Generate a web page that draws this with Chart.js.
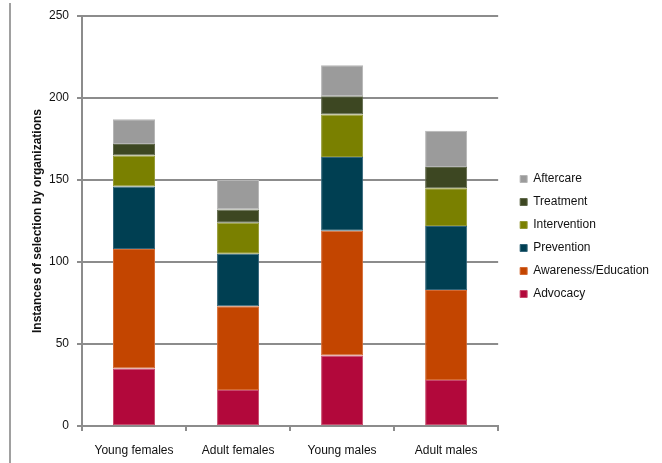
<!DOCTYPE html>
<html>
<head>
<meta charset="utf-8">
<script src="https://cdn.jsdelivr.net/npm/chart.js@4/dist/chart.umd.min.js"></script>
<style>
  html, body { margin: 0; padding: 0; background: #fff; }
  #wrap { position: relative; width: 662px; height: 463px; }
  #edge { position: absolute; left: 9px; top: 3px; width: 2px; height: 460px; background: #a0a0a0; }
  canvas { position: absolute; left: 0; top: 0; }
</style>
</head>
<body>
<div id="wrap">
  <canvas id="c" width="662" height="463"></canvas>
  <div id="edge"></div>
</div>
<script>
const categories = ["Young females", "Adult females", "Young males", "Adult males"];
const advocacy = [35, 22, 43, 28];
const awareness = [73, 51, 76, 55];
const prevention = [38, 32, 45, 39];
const intervention = [19, 19, 26, 23];
const treatment = [7, 8, 11, 13];
const aftercare = [15, 18, 19, 22];
const yTicks = [0, 50, 100, 150, 200, 250];

const FONT = "'Liberation Sans', Arial, sans-serif";
const GRID = '#8c8c8c';
const LEFT_PAD = 30;

function ds(label, data, color, border) {
  return { label, data, backgroundColor: color, borderColor: border, borderWidth: 1, borderSkipped: false,
           categoryPercentage: 1.0, barPercentage: 0.404 };
}

const legendShift = {
  id: 'legendShift',
  afterLayout(chart) {
    const lg = chart.legend;
    if (!lg) return;
    lg.left += 11; lg.right += 11;
    lg.top -= 3; lg.bottom -= 3;
  }
};

new Chart(document.getElementById('c'), {
  type: 'bar',
  data: {
    labels: categories,
    datasets: [
      ds('Advocacy', advocacy, '#b2083b', '#c84a6c'),
      ds('Awareness/Education', awareness, '#c34500', '#d46a33'),
      ds('Prevention', prevention, '#003f52', '#33657a'),
      ds('Intervention', intervention, '#7a8000', '#949933'),
      ds('Treatment', treatment, '#3d4722', '#5f684a'),
      ds('Aftercare', aftercare, '#9b9b9b', '#b5b5b5')
    ]
  },
  plugins: [legendShift],
  options: {
    responsive: false,
    animation: false,
    layout: { padding: { left: LEFT_PAD, right: 14, top: 16, bottom: 0 } },
    plugins: {
      tooltip: { enabled: false },
      legend: {
        position: 'right',
        reverse: true,
        labels: {
          boxWidth: 7, boxHeight: 7, padding: 11,
          color: '#111',
          font: { family: FONT, size: 12 }
        }
      }
    },
    scales: {
      x: {
        stacked: true,
        afterFit: (axis) => { axis.height = 37; },
        grid: { display: true, drawOnChartArea: false, drawTicks: true, tickLength: 5, color: GRID, lineWidth: 2, offset: true },
        border: { display: true, color: GRID, width: 2 },
        ticks: { color: '#111', font: { family: FONT, size: 12 }, padding: 12 }
      },
      y: {
        stacked: true,
        min: 0, max: 250,
        afterFit: (axis) => { axis.width = 82 - LEFT_PAD; },
        afterBuildTicks: (axis) => { axis.ticks = yTicks.map(v => ({ value: v })); },
        grid: { color: GRID, lineWidth: 2, tickLength: 5 },
        border: { display: true, color: GRID, width: 2 },
        ticks: { color: '#111', font: { family: FONT, size: 12 }, padding: 8 },
        title: { display: true, text: 'Instances of selection by organizations', color: '#111',
                 font: { family: FONT, size: 12, weight: 'bold' }, padding: { top: 0, bottom: 0 } }
      }
    }
  }
});
</script>
</body>
</html>
